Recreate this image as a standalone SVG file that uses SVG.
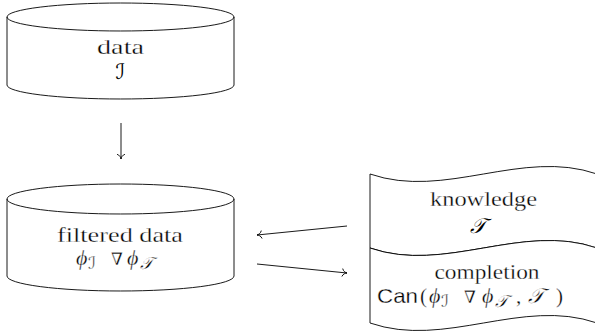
<svg xmlns="http://www.w3.org/2000/svg" width="595" height="332" viewBox="0 0 595 332">
  <style>
    .shape { fill: #ffffff; stroke: #000000; stroke-width: 0.9; }
    .line { fill: none; stroke: #000000; stroke-width: 0.9; }
    .rm { font-family: "Liberation Serif", "DejaVu Serif", serif; font-size: 21px; fill: #000000; stroke: #ffffff; stroke-width: 0.3px; }
    .mi { font-family: "Liberation Serif", "DejaVu Serif", serif; font-style: italic; font-size: 22px; }
    .cal { font-family: "DejaVu Serif", "DejaVu Sans", serif; font-style: italic; font-size: 21px; fill: #000000; }
    .sub { font-size: 17px; }
    .op { font-size: 17px; }
    .sf { font-family: "Liberation Sans", "DejaVu Sans", sans-serif; font-size: 21px; fill: #000000; stroke: #ffffff; stroke-width: 0.3px; }
  </style>
  <defs>
    <marker id="to" markerUnits="userSpaceOnUse" markerWidth="12" markerHeight="12" viewBox="-6 -6 12 12" refX="0" refY="0" orient="auto" overflow="visible">
      <path d="M-4.6,-3.6 C-3.9,-1.3 -1.6,-0.3 0,0 C-1.6,0.3 -3.9,1.3 -4.6,3.6" fill="none" stroke="#000000" stroke-width="0.9" stroke-linecap="round"/>
    </marker>
  </defs>

  <!-- data store -->
  <g id="data">
    <path class="shape" d="M7,17 A113.5,14 0 0 1 234,17 L234,85 A113.5,14 0 0 1 7,85 Z"/>
    <path class="line" d="M7,17 A113.5,14 0 0 0 234,17"/>
    <text class="rm" x="120.5" y="54" text-anchor="middle" textLength="47" lengthAdjust="spacingAndGlyphs">data</text>
    <text class="cal" x="120.5" y="79" text-anchor="middle">ℐ</text>
  </g>

  <!-- filtered data store -->
  <g id="filtered">
    <path class="shape" d="M7,199 A113.5,15 0 0 1 234,199 L234,276 A113.5,15 0 0 1 7,276 Z"/>
    <path class="line" d="M7,199 A113.5,15 0 0 0 234,199"/>
    <text class="rm" x="120" y="242" text-anchor="middle" textLength="126" lengthAdjust="spacingAndGlyphs">filtered data</text>
    <text class="rm" y="265"><tspan class="mi" x="76">ϕ</tspan><tspan class="cal sub" x="88" y="269">ℐ</tspan><tspan class="op" x="111" y="265">∇</tspan><tspan class="mi" x="127">ϕ</tspan><tspan class="cal sub" x="140" y="269">𝒯</tspan></text>
  </g>

  <!-- knowledge tape -->
  <g id="knowledge">
    <path class="shape" d="M370,174 C445,200 522,148 597,174 L597,248 C522,222 445,274 370,248 Z"/>
    <text class="rm" x="483.5" y="206" text-anchor="middle" textLength="107" lengthAdjust="spacingAndGlyphs">knowledge</text>
    <text class="cal" x="478" y="233" text-anchor="middle">𝒯</text>
  </g>

  <!-- completion tape -->
  <g id="completion">
    <path class="shape" d="M370,248 C445,274 522,222 597,248 L597,323 C522,297 445,349 370,323 Z"/>
    <text class="rm" x="487" y="279" text-anchor="middle" textLength="105" lengthAdjust="spacingAndGlyphs">completion</text>
    <text class="sf" x="377" y="303" textLength="41" lengthAdjust="spacingAndGlyphs">Can</text>
    <text class="rm" y="303"><tspan x="420">(</tspan><tspan class="mi" x="429">ϕ</tspan><tspan class="cal sub" x="441" y="307">ℐ</tspan><tspan class="op" x="464" y="303">∇</tspan><tspan class="mi" x="482">ϕ</tspan><tspan class="cal sub" x="495" y="307">𝒯</tspan><tspan x="516" y="303">,</tspan><tspan class="cal" x="528">𝒯</tspan><tspan x="556">)</tspan></text>
  </g>

  <!-- connectors -->
  <g id="connectors">
    <path class="line" d="M121,123 L121,159" marker-end="url(#to)"/>
    <path class="line" d="M347,226 L257,235" marker-end="url(#to)"/>
    <path class="line" d="M257,264 L347,273" marker-end="url(#to)"/>
  </g>
</svg>
